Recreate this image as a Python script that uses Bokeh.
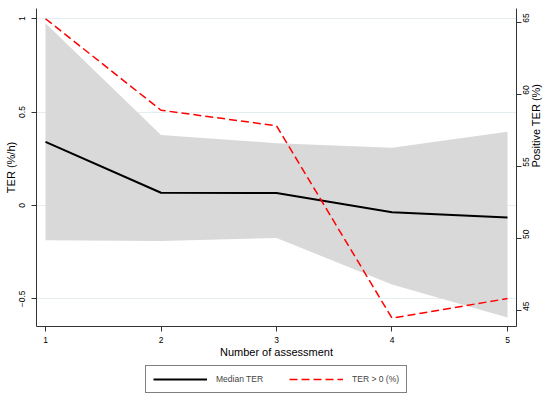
import math
from bokeh.plotting import figure
from bokeh.layouts import column
from bokeh.models import LinearAxis, Range1d, Legend, LegendItem, FixedTicker
from bokeh.embed import file_html
from bokeh.resources import INLINE

# ---- data ----
assessments = [1, 2, 3, 4, 5]
median_ter = [0.34, 0.068, 0.066, -0.036, -0.064]
ci_upper = [0.975, 0.377, 0.333, 0.309, 0.395]
ci_lower = [-0.187, -0.19, -0.174, -0.423, -0.60]
positive_ter = [65.28, 58.93, 57.85, 44.5, 45.86]

x_ticks = [1, 2, 3, 4, 5]
left_ticks = [-0.5, 0, 0.5, 1]
left_tick_labels = ["−0.5", "0", "0.5", "1"]
right_ticks = [45, 50, 55, 60, 65]

FONT = "Liberation Sans"
AXIS_COLOR = "#333333"
RED = "#ff0000"

p = figure(width=550, height=360, output_backend="svg", toolbar_location=None,
           x_range=Range1d(0.922, 5.078), y_range=Range1d(-0.648, 1.054),
           min_border_left=36, min_border_right=34, min_border_top=8, min_border_bottom=33,
           background_fill_color="white", border_fill_color="white")
p.extra_y_ranges = {"pct": Range1d(43.92, 65.99)}
p.outline_line_color = None

# band
p.varea(x=assessments, y1=ci_lower, y2=ci_upper, fill_color="#d9d9d9", fill_alpha=1.0)

# lines
r_med = p.line(assessments, median_ter, line_color="black", line_width=2)
r_pos = p.line(assessments, positive_ter, line_color=RED, line_width=1.5,
               line_dash="8 4", y_range_name="pct")

# grid
p.xgrid.visible = False
p.ygrid.ticker = FixedTicker(ticks=left_ticks)
p.ygrid.grid_line_color = "#e4eef0"
p.ygrid.grid_line_width = 1

def style_axis(ax):
    ax.axis_line_color = AXIS_COLOR
    ax.major_tick_line_color = AXIS_COLOR
    ax.major_tick_out = 5
    ax.major_tick_in = 0
    ax.minor_tick_line_color = None
    ax.major_label_text_font = FONT
    ax.major_label_text_font_size = "8.5px"
    ax.major_label_text_color = "black"
    ax.axis_label_text_font = FONT
    ax.axis_label_text_font_size = "11px"
    ax.axis_label_text_font_style = "normal"
    ax.axis_label_text_color = "black"

# x axis
xa = p.xaxis[0]
xa.ticker = FixedTicker(ticks=x_ticks)
xa.axis_label = "Number of assessment"
style_axis(xa)
xa.major_label_standoff = 5
xa.axis_label_standoff = 0

# left axis
ya = p.yaxis[0]
ya.ticker = FixedTicker(ticks=left_ticks)
ya.major_label_overrides = {t: s for t, s in zip(left_ticks, left_tick_labels)}
ya.axis_label = "TER (%/h)"
style_axis(ya)
ya.major_label_orientation = "vertical"
ya.major_label_standoff = 6
ya.axis_label_standoff = 0

# right axis
ra = LinearAxis(y_range_name="pct", ticker=FixedTicker(ticks=right_ticks),
                axis_label="Positive TER (%)")
style_axis(ra)
ra.major_label_orientation = math.pi / 2
ra.axis_label_orientation = math.pi / 2
ra.major_label_standoff = 5
ra.axis_label_standoff = 0
p.add_layout(ra, "right")

# legend strip below the chart
p2 = figure(width=550, height=41, output_backend="svg", toolbar_location=None,
            x_range=Range1d(0, 1), y_range=Range1d(0, 1),
            x_axis_location=None, y_axis_location=None,
            min_border_left=0, min_border_right=0, min_border_top=0, min_border_bottom=0,
            background_fill_color="white", border_fill_color="white")
p2.outline_line_color = None
p2.grid.visible = False
nan = float("nan")
k_med = p2.line(x=[nan], y=[nan], line_color="black", line_width=2)
k_pos = p2.line(x=[nan], y=[nan], line_color=RED, line_width=1.5, line_dash="8 4")

legend = Legend(items=[LegendItem(label="Median TER", renderers=[k_med]),
                       LegendItem(label="TER > 0 (%)", renderers=[k_pos])],
                orientation="horizontal", location=(109, 8))
legend.label_text_font = FONT
legend.label_text_font_size = "8.5px"
legend.glyph_width = 54
legend.glyph_height = 12
legend.label_height = 12
legend.label_standoff = 9
legend.spacing = 26
legend.padding = 7
legend.margin = 0
legend.border_line_color = "black"
legend.border_line_width = 1
legend.background_fill_color = "white"
p2.add_layout(legend, "center")

layout = column(p, p2, spacing=0)
open("out.html", "w").write(file_html(layout, INLINE))
